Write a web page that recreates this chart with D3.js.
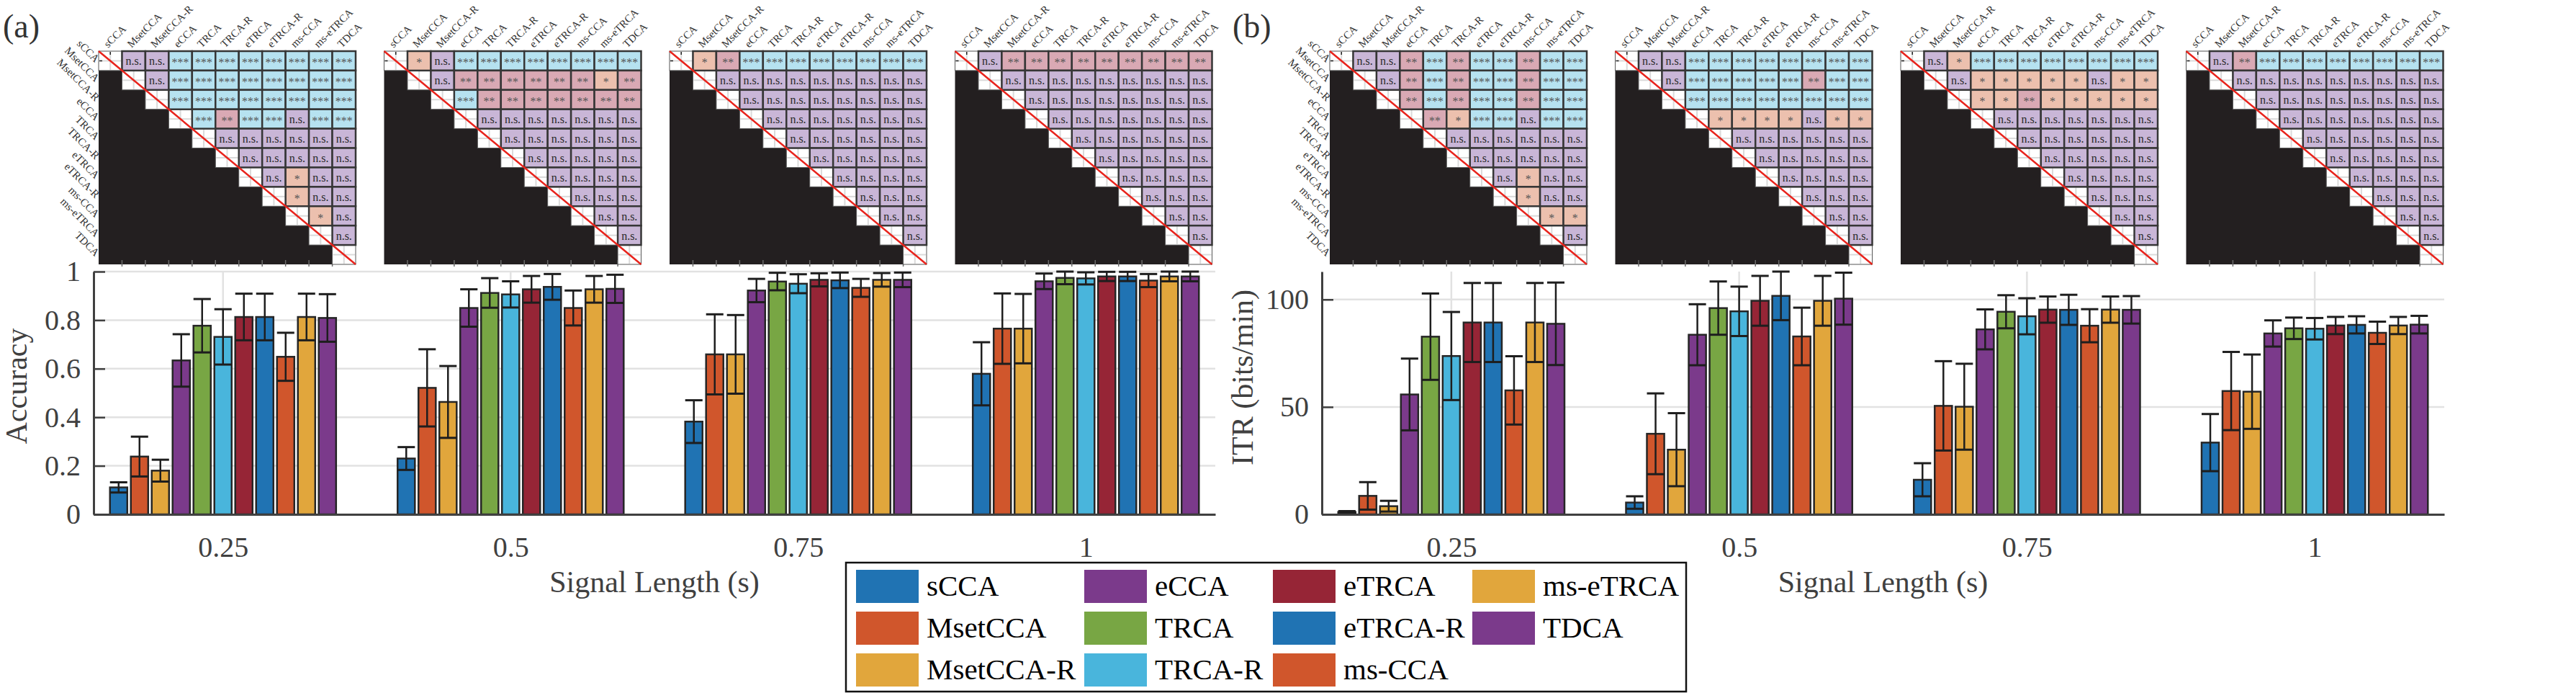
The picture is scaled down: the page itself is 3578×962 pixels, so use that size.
<!DOCTYPE html>
<html><head><meta charset="utf-8">
<script src="https://cdn.jsdelivr.net/npm/d3@7"></script>
<style>
body{margin:0;background:#fff}
svg{display:block}
text{font-family:"Liberation Serif","Times New Roman",serif}
</style>
</head><body>
<svg id="c" width="3578" height="962"></svg>
<script>
// ---------------- DATA ----------------
const methods = ["sCCA","MsetCCA","MsetCCA-R","eCCA","TRCA","TRCA-R","eTRCA","eTRCA-R","ms-CCA","ms-eTRCA","TDCA"];
const signalLengths = ["0.25","0.5","0.75","1"];

// Accuracy mean / std per signal length (rows) and method (cols)
const accMean = [
  [0.111,0.238,0.180,0.634,0.777,0.731,0.813,0.813,0.649,0.813,0.809],
  [0.230,0.521,0.463,0.850,0.912,0.906,0.927,0.937,0.850,0.927,0.929],
  [0.382,0.659,0.659,0.922,0.959,0.950,0.966,0.964,0.933,0.966,0.966],
  [0.579,0.765,0.765,0.960,0.974,0.972,0.980,0.980,0.963,0.980,0.980]
];
const accSD = [
  [0.021,0.082,0.045,0.108,0.110,0.114,0.096,0.096,0.099,0.096,0.098],
  [0.047,0.159,0.148,0.077,0.061,0.054,0.055,0.053,0.072,0.055,0.058],
  [0.088,0.165,0.162,0.048,0.036,0.039,0.027,0.032,0.037,0.028,0.030],
  [0.130,0.145,0.143,0.032,0.026,0.025,0.019,0.019,0.027,0.020,0.020]
];
// ITR mean / std (bits/min)
const itrMean = [
  [1.1,8.6,3.8,55.8,82.7,73.7,89.3,89.3,57.7,89.3,88.7],
  [5.5,37.5,30.1,83.6,96.0,94.5,99.4,101.7,82.8,99.4,100.4],
  [16.1,50.5,50.1,86.1,94.3,92.2,95.3,95.2,87.8,95.3,95.2],
  [33.4,57.4,57.1,84.2,86.6,86.4,87.9,88.2,84.5,87.9,88.3]
];
const itrSD = [
  [0.4,6.4,2.5,16.7,20.1,20.5,18.4,18.4,15.9,18.4,19.2],
  [2.9,18.8,17.0,14.2,12.4,11.5,11.6,11.3,13.4,11.6,12.1],
  [7.7,20.8,20.0,9.3,7.7,8.4,6.1,7.0,7.7,6.1,6.4],
  [13.3,18.2,17.3,6.1,5.0,5.0,4.0,4.0,5.2,4.0,4.1]
];

const accTicks = [0,0.2,0.4,0.6,0.8,1];
const accTickLabels = ["0","0.2","0.4","0.6","0.8","1"];
const itrTicks = [0,50,100];
const itrTickLabels = ["0","50","100"];

// Pairwise significance, upper triangle rows (0 = n.s., 1 = *, 2 = **, 3 = ***)
const accSig = [
  ["0033333333","033333333","33333333","3233033","000000","00000","0100","100","10","0"],
  ["1033333333","022222212","32222222","0000000","000000","00000","0000","000","00","0"],
  ["1233333333","000000000","00000000","0000000","000000","00000","0000","000","00","0"],
  ["0222222222","000000000","00000000","0000000","000000","00000","0000","000","00","0"]
];
const itrSig = [
  ["0023233233","023233233","23233233","2133033","000000","00000","0100","100","11","0"],
  ["0033333333","033333233","33333333","1111011","000000","00000","0000","000","00","0"],
  ["0133333333","011111011","11211111","0000000","000000","00000","0000","000","00","0"],
  ["0233333333","000000000","00000000","0000000","000000","00000","0000","000","00","0"]
];
const sigLabels = ["n.s.","*","**","***"];

// ---------------- STYLE ----------------
const FONT = '"Liberation Serif","Times New Roman",serif';
const colors = ["#2073b3","#d0562c","#e1a63c","#7b3a8b","#78a644","#49b5dc","#962536","#2073b3","#d0562c","#e1a63c","#7b3a8b"];
const sigFill = ["#c9b6d7","#ecc0ae","#d9a9b4","#b6e2f0"];
const AX = "#404040";

const svg = d3.select("#c");
svg.append("rect").attr("width",3578).attr("height",962).attr("fill","#fff");

// ---------------- HEATMAPS ----------------
const HM_W = 357, HM_H = 296, HM_Y = 71, HM_STEP = 396.5;

function drawHeatmap(sig, x0, y0, showRows) {
  const n = methods.length;
  const hx = d3.scaleBand().domain(d3.range(n)).range([x0, x0 + HM_W]);
  const hy = d3.scaleBand().domain(d3.range(n)).range([y0, y0 + HM_H]);
  const bw = hx.bandwidth(), bh = hy.bandwidth();
  const g = svg.append("g").attr("font-family", FONT);
  g.append("rect").attr("x", x0).attr("y", y0).attr("width", HM_W).attr("height", HM_H).attr("fill", "#231f20");
  g.selectAll("line.bt").data(d3.range(1, n)).join("line")
    .attr("x1", j => hx(j)).attr("x2", j => hx(j))
    .attr("y1", y0 + HM_H - 6).attr("y2", y0 + HM_H + 3)
    .attr("stroke", "#6a6a6a").attr("stroke-width", 1.5);
  const cells = [];
  for (let i = 0; i < n; i++) for (let j = i; j < n; j++)
    cells.push({i, j, code: j === i ? null : +sig[i][j - i - 1]});
  const diag = cells.filter(c => c.code === null);
  const up = cells.filter(c => c.code !== null);
  g.selectAll("rect.d").data(diag).join("rect")
    .attr("x", c => hx(c.j)).attr("y", c => hy(c.i)).attr("width", bw).attr("height", bh)
    .attr("fill", "#fff").attr("stroke", "#555").attr("stroke-width", 1);
  g.selectAll("line.dv").data(diag).join("line")
    .attr("x1", c => hx(c.j) + bw / 2).attr("x2", c => hx(c.j) + bw / 2)
    .attr("y1", c => hy(c.i) + 1).attr("y2", c => hy(c.i) + bh - 1)
    .attr("stroke", "#dadada").attr("stroke-width", 2);
  g.selectAll("line.dh").data(diag).join("line")
    .attr("x1", c => hx(c.j) + 1).attr("x2", c => hx(c.j) + bw - 1)
    .attr("y1", c => hy(c.i) + bh / 2).attr("y2", c => hy(c.i) + bh / 2)
    .attr("stroke", "#dadada").attr("stroke-width", 2);
  g.append("line").attr("x1", x0 + bw / 2).attr("x2", x0 + bw / 2).attr("y1", y0 + 1).attr("y2", y0 + 5).attr("stroke", "#222").attr("stroke-width", 1.5);
  g.append("line").attr("x1", x0 + 1).attr("x2", x0 + 5).attr("y1", y0 + bh / 2).attr("y2", y0 + bh / 2).attr("stroke", "#222").attr("stroke-width", 1.5);
  g.selectAll("rect.u").data(up).join("rect")
    .attr("x", c => hx(c.j)).attr("y", c => hy(c.i)).attr("width", bw).attr("height", bh)
    .attr("fill", c => sigFill[c.code]).attr("stroke", "#363636").attr("stroke-width", 2.5);
  g.selectAll("text.t").data(up).join("text")
    .attr("x", c => hx(c.j) + bw / 2)
    .attr("y", c => hy(c.i) + bh / 2 + (c.code === 0 ? 6 : 8))
    .attr("text-anchor", "middle").attr("font-size", 16)
    .attr("fill", c => c.code === 0 ? "#2a2a2a" : "#555")
    .text(c => sigLabels[c.code]);
  g.append("line").attr("x1", x0).attr("y1", y0).attr("x2", x0 + HM_W).attr("y2", y0 + HM_H)
    .attr("stroke", "#e8231c").attr("stroke-width", 2.5);
  g.selectAll("text.col").data(methods).join("text")
    .attr("transform", (m, j) => `translate(${hx(j) + bw / 2 - 3},${y0 - 4}) rotate(-45)`)
    .attr("font-size", 15).attr("fill", "#333").text(m => m);
  if (showRows) {
    g.selectAll("text.row").data(methods).join("text")
      .attr("transform", (m, i) => `translate(${x0 - 5},${hy(i) + bh / 2 + 3}) rotate(45)`)
      .attr("text-anchor", "end").attr("font-size", 15).attr("fill", "#333").text(m => m);
  }
}

const panelHeatX = [137, 1847];
accSig.forEach((s, k) => drawHeatmap(s, panelHeatX[0] + k * HM_STEP, HM_Y, k === 0));
itrSig.forEach((s, k) => drawHeatmap(s, panelHeatX[1] + k * HM_STEP, HM_Y, k === 0));

// ---------------- BAR CHARTS ----------------
const Y0 = 714, Y1 = 377;
function drawBars(xl, xr, yMax, ticks, tickLabels, means, sds, ylabel, ylabelX, ylabelY) {
  const g = svg.append("g").attr("font-family", FONT);
  const x = d3.scaleLinear().domain([0.55, 4.45]).range([xl, xr]);
  const y = d3.scaleLinear().domain([0, yMax]).range([Y0, Y1]);
  const groupW = x(1.7985) - x(1);
  const inner = d3.scaleBand().domain(methods).range([-groupW / 2, groupW / 2])
    .paddingInner(0.17).paddingOuter(0.085);
  g.selectAll("line.gh").data(ticks).join("line")
    .attr("x1", xl).attr("x2", xr).attr("y1", d => y(d)).attr("y2", d => y(d))
    .attr("stroke", "#e2e2e2").attr("stroke-width", 2.5);
  g.selectAll("line.gv").data([1, 2, 3, 4]).join("line")
    .attr("x1", d => x(d)).attr("x2", d => x(d)).attr("y1", Y1).attr("y2", Y0)
    .attr("stroke", "#e2e2e2").attr("stroke-width", 2.5);
  const recs = [];
  means.forEach((row, gi) => row.forEach((m, k) => recs.push({gi, k, m, s: sds[gi][k]})));
  const bx = d => x(d.gi + 1) + inner(methods[d.k]);
  const bw = inner.bandwidth();
  g.selectAll("rect.bar").data(recs).join("rect")
    .attr("x", bx).attr("width", bw)
    .attr("y", d => y(d.m)).attr("height", d => Y0 - y(d.m))
    .attr("fill", d => colors[d.k]).attr("stroke", "#262626").attr("stroke-width", 2.5);
  g.selectAll("line.ev").data(recs).join("line")
    .attr("x1", d => bx(d) + bw / 2).attr("x2", d => bx(d) + bw / 2)
    .attr("y1", d => y(Math.max(0, d.m - d.s))).attr("y2", d => y(d.m + d.s))
    .attr("stroke", "#1e1e1e").attr("stroke-width", 2.5);
  g.selectAll("line.eh").data(recs).join("line")
    .attr("x1", d => bx(d)).attr("x2", d => bx(d) + bw)
    .attr("y1", d => y(d.m + d.s)).attr("y2", d => y(d.m + d.s))
    .attr("stroke", "#1e1e1e").attr("stroke-width", 3);
  g.selectAll("line.el").data(recs).join("line")
    .attr("x1", d => bx(d)).attr("x2", d => bx(d) + bw)
    .attr("y1", d => y(Math.max(0, d.m - d.s))).attr("y2", d => y(Math.max(0, d.m - d.s)))
    .attr("stroke", "#1e1e1e").attr("stroke-width", 3);
  const ay = g.append("g").attr("transform", `translate(${xl},0)`)
    .call(d3.axisLeft(y).tickValues(ticks).tickFormat((d, i) => tickLabels[i])
      .tickSizeInner(-16).tickSizeOuter(0).tickPadding(18));
  const ax = g.append("g").attr("transform", `translate(0,${Y0})`)
    .call(d3.axisBottom(x).tickValues([1, 2, 3, 4]).tickFormat(d => signalLengths[d - 1])
      .tickSizeInner(0).tickSizeOuter(0).tickPadding(31));
  [ay, ax].forEach(a => {
    a.attr("font-family", FONT);
    a.select(".domain").attr("stroke", AX).attr("stroke-width", 3);
    a.selectAll(".tick line").attr("stroke", AX).attr("stroke-width", 2.5);
    a.selectAll(".tick text").attr("fill", AX).attr("font-size", 40).attr("font-family", FONT);
  });
  g.append("text").attr("transform", `translate(${ylabelX},${ylabelY}) rotate(-90)`)
    .attr("text-anchor", "middle").attr("font-size", 42).attr("fill", AX).text(ylabel);
  g.append("text").attr("x", (xl + xr) / 2).attr("y", 822)
    .attr("text-anchor", "middle").attr("font-size", 42).attr("fill", AX).text("Signal Length (s)");
}

drawBars(130, 1688, 1, accTicks, accTickLabels, accMean, accSD, "Accuracy", 37, 536);
drawBars(1836, 3395, 113, itrTicks, itrTickLabels, itrMean, itrSD, "ITR (bits/min)", 1740, 524);

svg.append("text").attr("x", 4).attr("y", 52).attr("font-size", 46).attr("fill", "#333").attr("font-family", FONT).text("(a)");
svg.append("text").attr("x", 1712).attr("y", 52).attr("font-size", 46).attr("fill", "#333").attr("font-family", FONT).text("(b)");

// ---------------- LEGEND ----------------
const lg = svg.append("g").attr("font-family", FONT);
lg.append("rect").attr("x", 1175).attr("y", 781).attr("width", 1167).attr("height", 179)
  .attr("fill", "#fff").attr("stroke", "#111").attr("stroke-width", 2.5);
const legColX = [1189, 1506, 1768, 2045];
const legRowY = [791, 849, 907];
const items = methods.map((m, k) => ({m, k, c: Math.floor(k / 3), r: k % 3}));
lg.selectAll("rect.sw").data(items).join("rect")
  .attr("x", d => legColX[d.c]).attr("y", d => legRowY[d.r]).attr("width", 87).attr("height", 46)
  .attr("fill", d => colors[d.k]);
lg.selectAll("text.lt").data(items).join("text")
  .attr("x", d => legColX[d.c] + 98).attr("y", d => legRowY[d.r] + 36)
  .attr("font-size", 41).attr("fill", "#000").text(d => d.m);
</script>
</body></html>
